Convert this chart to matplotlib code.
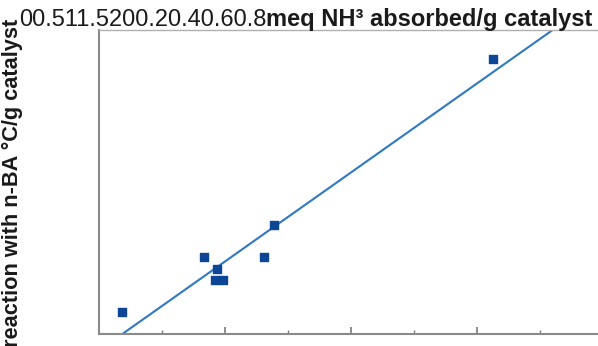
import matplotlib
matplotlib.use('Agg')
import matplotlib.pyplot as plt
import numpy as np
from matplotlib.ticker import MultipleLocator

# acid sites (meq NH3/g) vs reaction with n-BA
nh3 = [0.037, 0.167, 0.188, 0.184, 0.196, 0.262, 0.277, 0.625]
nba = [0.145, 0.505, 0.426, 0.355, 0.355, 0.505, 0.715, 1.807]

# fitted trend line end points
fit_x = [0.037, 0.72]
fit_y = [0.0, 2.0]

y_ticks = ['0', '0.5', '1', '1.5', '2']
x_ticks = ['0', '0.2', '0.4', '0.6', '0.8']

plt.rcParams['font.family'] = ['Liberation Sans', 'DejaVu Sans']

fig = plt.figure(figsize=(5.98, 3.46), dpi=100)
ax = fig.add_axes([0.1656, 0.0347, 0.8428, 0.8786])

ax.plot(fit_x, fit_y, color='#2f78c2', lw=1.5, zorder=2)
ax.scatter(nh3, nba, marker='s', s=36, color='#0d4696', zorder=3)

ax.set_xlim(0, 0.8)
ax.set_ylim(0, 2)
ax.xaxis.set_major_locator(MultipleLocator(0.2))
ax.xaxis.set_minor_locator(MultipleLocator(0.1))
ax.tick_params(axis='x', which='major', direction='in', length=5, width=1.2,
               color='#7a7a7a', labelbottom=False)
ax.tick_params(axis='x', which='minor', direction='in', length=3, width=1.0,
               color='#7a7a7a')
ax.tick_params(axis='y', left=False, labelleft=False)
for side in ['left', 'bottom']:
    ax.spines[side].set_color('#8a8a8a')
    ax.spines[side].set_linewidth(1.5)
ax.spines['top'].set_color('#b0b0b0')
ax.spines['top'].set_linewidth(1.0)
ax.spines['right'].set_visible(False)

# the tick labels ended up piled in the top left corner
t = fig.text(19 / 598, 1 - 26 / 346, ''.join(y_ticks) + ''.join(x_ticks),
             fontsize=17, va='baseline', ha='left', color='#1a1a1a')
fig.canvas.draw()
ax.annotate('meq NH³ absorbed/g catalyst', xy=(1, 0), xycoords=t,
            va='bottom', ha='left', fontsize=17, fontweight='bold',
            color='#1a1a1a', annotation_clip=False)

fig.text(12 / 598, 0.4725, 'reaction with n-BA °C/g catalyst', rotation=90,
         fontsize=15.7, fontweight='bold', ha='center', va='center',
         color='#1a1a1a')

fig.savefig('out.png', dpi=100)
